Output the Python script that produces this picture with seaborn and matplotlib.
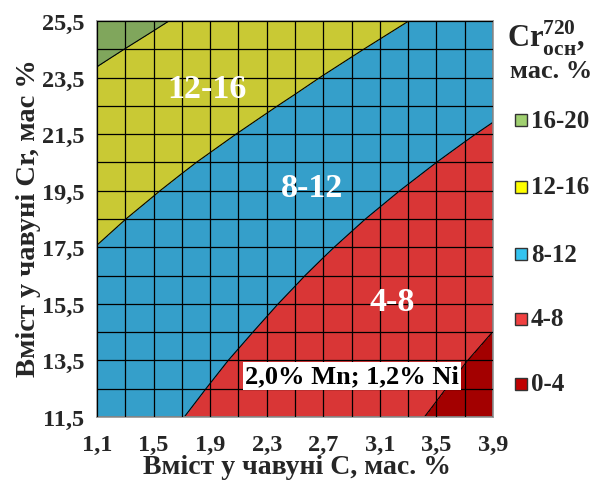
import numpy as np
import matplotlib
matplotlib.use("Agg")
import matplotlib.pyplot as plt
import seaborn as sns
from matplotlib.patches import Rectangle

sns.set_style("white")
plt.rcParams['font.family'] = ['Liberation Serif', 'DejaVu Serif']
plt.rcParams['font.weight'] = 'bold'
plt.rcParams['mathtext.fontset'] = 'custom'
plt.rcParams['mathtext.rm'] = 'Liberation Serif:bold'
plt.rcParams['mathtext.bf'] = 'Liberation Serif:bold'

# ============================
# Dane
# ============================
c_content = [1.1, 1.3, 1.5, 1.7, 1.9, 2.1, 2.3, 2.5, 2.7, 2.9, 3.1, 3.3, 3.5, 3.7, 3.9]
cr_content = [11.5, 12.5, 13.5, 14.5, 15.5, 16.5, 17.5, 18.5, 19.5, 20.5,
              21.5, 22.5, 23.5, 24.5, 25.5]

# Cr osn (720), mas. % -- wiersze: Cr w żeliwie, kolumny: C w żeliwie
cr_osn = [
    [9.46, 8.99, 8.52, 8.04, 7.57, 7.10, 6.63, 6.16, 5.68, 5.21, 4.74, 4.27, 3.80, 3.32, 2.85],
    [9.82, 9.35, 8.88, 8.40, 7.93, 7.46, 6.99, 6.52, 6.04, 5.57, 5.10, 4.63, 4.16, 3.68, 3.21],
    [10.19, 9.72, 9.25, 8.77, 8.30, 7.83, 7.36, 6.89, 6.41, 5.94, 5.47, 5.00, 4.53, 4.05, 3.58],
    [10.60, 10.13, 9.66, 9.18, 8.71, 8.24, 7.77, 7.30, 6.82, 6.35, 5.88, 5.41, 4.94, 4.46, 3.99],
    [11.02, 10.55, 10.08, 9.60, 9.13, 8.66, 8.19, 7.72, 7.24, 6.77, 6.30, 5.83, 5.36, 4.88, 4.41],
    [11.47, 11.00, 10.53, 10.05, 9.58, 9.11, 8.64, 8.17, 7.69, 7.22, 6.75, 6.28, 5.81, 5.33, 4.86],
    [11.96, 11.49, 11.02, 10.54, 10.07, 9.60, 9.13, 8.66, 8.18, 7.71, 7.24, 6.77, 6.30, 5.82, 5.35],
    [12.48, 12.01, 11.54, 11.06, 10.59, 10.12, 9.65, 9.18, 8.70, 8.23, 7.76, 7.29, 6.82, 6.34, 5.87],
    [13.05, 12.58, 12.11, 11.63, 11.16, 10.69, 10.22, 9.75, 9.27, 8.80, 8.33, 7.86, 7.39, 6.91, 6.44],
    [13.66, 13.19, 12.72, 12.24, 11.77, 11.30, 10.83, 10.36, 9.88, 9.41, 8.94, 8.47, 8.00, 7.52, 7.05],
    [14.32, 13.85, 13.38, 12.90, 12.43, 11.96, 11.49, 11.02, 10.54, 10.07, 9.60, 9.13, 8.66, 8.18, 7.71],
    [15.01, 14.54, 14.07, 13.59, 13.12, 12.65, 12.18, 11.71, 11.23, 10.76, 10.29, 9.82, 9.35, 8.87, 8.40],
    [15.72, 15.25, 14.78, 14.30, 13.83, 13.36, 12.89, 12.42, 11.94, 11.47, 11.00, 10.53, 10.06, 9.58, 9.11],
    [16.45, 15.98, 15.51, 15.03, 14.56, 14.09, 13.62, 13.15, 12.67, 12.20, 11.73, 11.26, 10.79, 10.31, 9.84],
    [17.20, 16.73, 16.26, 15.78, 15.31, 14.84, 14.37, 13.90, 13.42, 12.95, 12.48, 12.01, 11.54, 11.06, 10.59],
]

levels = [0, 4, 8, 12, 16, 20]
band_labels = ['0-4', '4-8', '8-12', '12-16', '16-20']
fill_colors = ['#a30000', '#d93636', '#359fca', '#c9c934', '#80a65c']
legend_colors = ['#c00000', '#f04040', '#33c3f0', '#ffff00', '#a0d070']

x_ticks = c_content[::2]
y_ticks = cr_content[::2]

# ============================
# Wykres
# ============================
fig = plt.figure(figsize=(5.96, 4.85), dpi=100)
ax = fig.add_axes([97 / 596, 1 - 418 / 485, 396 / 596, 396 / 485])

X, Y = np.meshgrid(c_content, cr_content)
Z = np.array(cr_osn)
ax.contourf(X, Y, Z, levels=levels, colors=fill_colors)
ax.contour(X, Y, Z, levels=levels[1:-1], colors='black', linewidths=0.8)

ax.set_xlim(c_content[0], c_content[-1])
ax.set_ylim(cr_content[0], cr_content[-1])
ax.set_xticks(x_ticks)
ax.set_xticks(c_content, minor=True)
ax.set_yticks(y_ticks)
ax.set_yticks(cr_content, minor=True)
ax.set_xticklabels([f'{v:.1f}'.replace('.', ',') for v in x_ticks])
ax.set_yticklabels([f'{v:.1f}'.replace('.', ',') for v in y_ticks])
ax.tick_params(axis='both', which='both', length=0, labelsize=17.5)
ax.tick_params(axis='x', pad=12)
ax.tick_params(axis='y', pad=9)
ax.grid(True, which='both', color='black', linewidth=0.9)
ax.set_axisbelow(False)
for sp in ax.spines.values():
    sp.set_color('#9a9a9a')
    sp.set_linewidth(1.3)

ax.set_xlabel('Вміст у чавуні С, мас. %', fontsize=20, fontweight='bold', va='center')
ax.xaxis.set_label_coords(0.505, -0.124)
ax.set_ylabel('Вміст у чавуні Cr, мас %', fontsize=20.5, fontweight='bold', va='center')
ax.yaxis.set_label_coords(-0.172, 0.505)

# Podpisy stref
for txt, xx, yy in [('12-16', 1.88, 23.1), ('8-12', 2.62, 19.6), ('4-8', 3.19, 15.6)]:
    ax.text(xx, yy, txt, color='white', fontsize=24.5, fontweight='bold',
            ha='center', va='center')
ax.text(2.90, 12.95, '2,0% Mn; 1,2% Ni', color='black', fontsize=19, fontweight='bold',
        ha='center', va='center',
        bbox=dict(facecolor='white', edgecolor='none', pad=1.5))

# Legenda
fig.text(507 / 596, 1 - 47 / 485, r'$\mathrm{Cr}_{\mathrm{осн}}^{\mathrm{720}}$,',
         fontsize=22, fontweight='bold', va='baseline')
fig.text(551 / 596, 1 - 72 / 485, 'мас. %', fontsize=19, fontweight='bold',
         ha='center', va='center')

legend_y = [385, 320, 255, 188, 121]
for lab, col, yc in zip(band_labels, legend_colors, legend_y):
    fig.add_artist(Rectangle((515 / 596, 1 - (yc + 6) / 485), 12 / 596, 12 / 485,
                             transform=fig.transFigure, facecolor=col,
                             edgecolor='#333333', linewidth=1))
    fig.text(531 / 596, 1 - yc / 485, lab, fontsize=18, fontweight='bold', va='center')

fig.savefig('out.png', dpi=100)
